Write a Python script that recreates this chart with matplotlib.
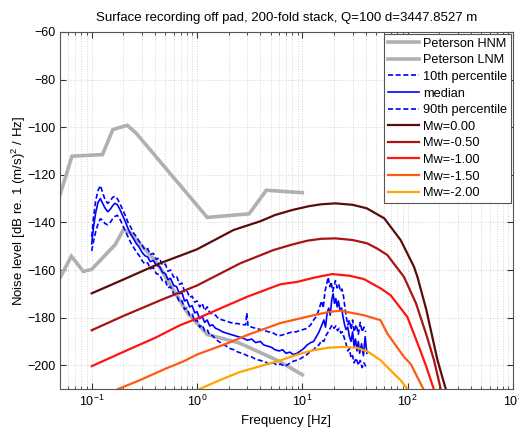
import matplotlib
matplotlib.use("Agg")
import matplotlib.pyplot as plt
import numpy as np

plt.rcParams['font.family'] = ['Liberation Sans', 'DejaVu Sans']
plt.rcParams['mathtext.fontset'] = 'custom'
plt.rcParams['mathtext.rm'] = 'Liberation Sans'
plt.rcParams['mathtext.it'] = 'Liberation Sans:italic'

# Peterson high / low noise models (velocity PSD, dB)
hnm_f = [0.05, 0.0649, 0.1266, 0.1587, 0.2174, 0.263, 1.25, 3.125, 4.545, 10.0]
hnm_db = [-128.5, -112.2, -111.5, -101.0, -99.2, -102.4, -137.9, -136.4, -126.5, -127.5]

lnm_f = [0.05, 0.0641, 0.0833, 0.1, 0.1667, 0.2, 0.2326, 0.4167, 0.806, 1.25, 2.5, 5.88, 10.0]
lnm_db = [-163.3, -154.2, -160.6, -159.7, -149.4, -143.1, -144.4, -157.0, -177.8, -187.1, -190.6, -198.1, -204.0]

# Recorded noise percentiles
med_f = [0.100, 0.104, 0.109, 0.115, 0.121, 0.127, 0.134, 0.142, 0.150, 0.158, 0.166, 0.175,
         0.185, 0.196, 0.208, 0.221, 0.235, 0.250, 0.266, 0.283, 0.300, 0.320, 0.340, 0.360,
         0.385, 0.410, 0.440, 0.470, 0.500, 0.530, 0.560, 0.600, 0.640, 0.680, 0.720, 0.760,
         0.800, 0.850, 0.900, 0.950, 1.00, 1.06, 1.12, 1.18, 1.25, 1.32, 1.40, 1.50, 1.60,
         1.75, 1.90, 2.06, 2.25, 2.45, 2.70, 3.0, 3.3, 3.6, 4.0, 4.3, 4.7, 5.1, 5.5, 6.0, 6.5,
         7.0, 7.6, 8.2, 8.9, 9.6, 10.3, 11.1, 12.0, 12.8, 13.6, 14.4, 15.2, 16.0, 16.6, 17.2,
         17.8, 18.4, 19.0, 19.6, 20.2, 20.8, 21.4, 22.0, 22.8, 23.6, 24.4, 25.2, 26.0, 27.0,
         28.0, 29.0, 30.0, 31.0, 32.0, 33.0, 34.0, 35.0, 36.5, 38.0, 39.5, 41.0]
med_db = [-149.0, -142.0, -136.0, -131.5, -130.0, -132.0, -134.0, -135.5, -134.5, -133.0, -132.0, -132.5,
          -134.5, -137.0, -139.5, -142.5, -145.0, -147.0, -149.0, -150.5, -152.5, -154.0, -154.5, -156.5,
          -156.0, -158.0, -158.5, -161.0, -161.5, -164.0, -163.5, -166.5, -167.0, -170.0, -169.5, -173.0,
          -172.5, -175.5, -175.0, -178.0, -177.5, -180.5, -179.5, -182.0, -181.0, -183.5, -183.0, -184.5, -185.0,
          -186.0, -186.5, -187.0, -187.5, -188.0, -188.5, -189.5, -189.0, -190.5, -190.0, -191.5, -192.0, -192.5, -193.5, -194.0, -193.5,
          -195.0, -194.5, -195.5, -195.0, -194.0, -193.0, -191.5, -190.5, -190.0, -188.0, -186.0, -183.5, -181.0, -184.0, -178.0,
          -176.0, -179.0, -172.5, -170.0, -174.0, -172.0, -175.5, -173.0, -177.0, -176.0, -180.0, -183.0, -185.0, -184.0,
          -188.0, -190.0, -186.0, -192.0, -189.0, -194.0, -190.0, -195.0, -191.0, -196.0, -188.0, -195.0]

p90_f = [0.100, 0.104, 0.109, 0.115, 0.121, 0.127, 0.134, 0.142, 0.150, 0.158, 0.166, 0.175,
         0.185, 0.196, 0.208, 0.221, 0.235, 0.250, 0.266, 0.283, 0.300, 0.320, 0.340, 0.360,
         0.385, 0.410, 0.440, 0.470, 0.500, 0.530, 0.560, 0.600, 0.640, 0.680, 0.720, 0.760,
         0.800, 0.850, 0.900, 0.950, 1.00, 1.06, 1.12, 1.18, 1.25, 1.32, 1.40, 1.50, 1.60,
         1.75, 1.90, 2.06, 2.25, 2.45, 2.70, 2.90, 2.97, 3.05, 3.3, 3.6, 4.0, 4.4, 4.8, 5.3, 5.8,
         6.2, 6.8, 7.4, 8.0, 8.7, 9.4, 10.2, 11.1, 12.0, 12.8, 13.6, 14.4, 15.2, 15.8, 16.4,
         17.0, 17.6, 18.2, 18.8, 19.4, 20.0, 20.6, 21.4, 22.2, 23.0, 23.8, 24.6, 25.4, 26.2,
         27.0, 28.0, 29.0, 30.0, 31.0, 32.5, 34.0, 35.5, 37.0, 38.5, 40.0]
p90_db = [-146.0, -138.0, -131.0, -126.5, -124.5, -127.5, -130.5, -132.0, -131.0, -129.5, -129.0, -130.0,
          -132.0, -134.5, -137.0, -140.0, -142.0, -144.5, -146.0, -148.0, -149.5, -151.5, -151.0, -153.5,
          -153.0, -155.5, -155.0, -158.0, -157.5, -160.5, -160.0, -163.0, -162.5, -166.0, -165.5, -169.0,
          -168.5, -171.5, -171.0, -173.5, -173.0, -175.5, -174.0, -177.0, -175.5, -178.0, -178.5, -179.0, -180.5,
          -181.0, -181.5, -182.0, -182.5, -182.5, -183.0, -183.0, -178.0, -183.5, -184.0, -184.5, -185.0, -185.5, -186.0, -186.5, -187.5,
          -187.5, -187.0, -186.5, -186.0, -186.0, -185.5, -185.0, -184.5, -183.0, -181.0, -179.5, -176.5, -173.0, -176.0, -169.0,
          -166.0, -163.0, -167.0, -165.0, -169.0, -167.0, -164.5, -167.5, -166.0, -169.0, -168.0, -171.0, -176.0, -180.0,
          -183.0, -181.0, -185.0, -181.0, -186.0, -183.0, -187.0, -182.0, -186.0, -184.0, -186.0]

p10_f = [0.100, 0.104, 0.109, 0.115, 0.121, 0.127, 0.134, 0.142, 0.150, 0.158, 0.166, 0.175,
         0.185, 0.196, 0.208, 0.221, 0.235, 0.250, 0.266, 0.283, 0.300, 0.320, 0.340, 0.360,
         0.385, 0.410, 0.440, 0.470, 0.500, 0.530, 0.560, 0.600, 0.640, 0.680, 0.720, 0.760,
         0.800, 0.850, 0.900, 0.950, 1.00, 1.06, 1.12, 1.18, 1.25, 1.32, 1.40, 1.50, 1.60,
         1.75, 1.90, 2.06, 2.25, 2.45, 2.70, 3.0, 3.3, 3.6, 4.0, 4.4, 4.8, 5.3, 5.8, 6.2, 6.8,
         7.4, 8.0, 8.7, 9.4, 10.2, 11.1, 12.0, 12.8, 13.6, 14.4, 15.2, 16.0, 16.8, 17.6, 18.4,
         19.2, 20.0, 20.8, 21.6, 22.4, 23.2, 24.0, 25.0, 26.0, 27.0, 28.0, 29.0, 30.0, 31.0,
         32.5, 34.0, 35.5, 37.0, 38.5, 40.0]
p10_db = [-152.0, -148.0, -144.0, -140.5, -138.5, -139.0, -140.5, -141.0, -140.0, -138.5, -137.5, -137.0,
          -138.5, -141.0, -143.5, -146.0, -148.5, -150.5, -152.5, -154.0, -156.0, -157.5, -157.0, -159.5,
          -159.0, -161.5, -162.0, -164.5, -164.5, -167.5, -167.0, -170.0, -170.5, -173.5, -173.0, -176.5,
          -176.0, -179.0, -178.5, -181.5, -181.0, -184.0, -183.0, -185.5, -185.0, -187.5, -187.5, -189.0, -190.0,
          -191.0, -192.0, -193.0, -193.5, -194.5, -195.0, -196.0, -196.5, -197.5, -198.0, -198.5, -199.5, -199.0, -200.0, -199.5, -200.5,
          -199.5, -198.5, -198.0, -197.5, -196.5, -195.5, -194.0, -193.5, -192.0, -191.5, -189.5, -190.0, -187.5, -186.0, -184.5,
          -183.0, -184.5, -183.5, -185.5, -184.5, -186.5, -186.0, -188.5, -191.0, -194.0, -193.0, -197.0, -196.0, -199.0,
          -197.0, -200.0, -198.0, -201.0, -199.0, -200.5]

# Modelled event spectra for several magnitudes
mw_labels = ['Mw=0.00', 'Mw=-0.50', 'Mw=-1.00', 'Mw=-1.50', 'Mw=-2.00']
mw_colors = ['#5a0c0c', '#a81414', '#ff1414', '#ff5a14', '#ffa500']

mw0_f = [0.1, 0.2, 0.444, 1.0, 2.22, 4.0, 5.5, 8.0, 11.5, 15.0, 20.6, 30.0, 41.0, 60.0, 86.0, 115.0, 124.0, 150.0, 192.0, 230.0, 260.0]
mw0_db = [-169.8, -164.0, -157.2, -151.3, -143.2, -139.5, -136.9, -134.8, -133.2, -132.4, -132.0, -132.6, -134.1, -138.3, -147.5, -158.7, -163.0, -176.5, -197.9, -210.0, -220.0]

mw1_f = [0.1, 0.2, 0.444, 1.0, 2.57, 5.33, 8.0, 11.1, 15.0, 20.6, 30.0, 41.3, 51.4, 64.1, 92.3, 120.0, 150.0, 178.0, 206.0, 240.0]
mw1_db = [-185.3, -179.3, -172.8, -166.5, -157.2, -151.6, -149.3, -147.7, -146.9, -146.7, -147.4, -148.8, -151.0, -153.7, -162.9, -174.0, -187.0, -197.9, -210.0, -222.0]

mw2_f = [0.1, 0.2, 0.4, 0.689, 1.0, 2.97, 6.17, 8.9, 13.0, 19.2, 28.0, 38.4, 55.3, 68.9, 99.3, 128.0, 150.0, 180.0, 210.0]
mw2_db = [-200.4, -194.4, -188.5, -183.2, -180.4, -171.3, -166.0, -165.0, -163.2, -161.7, -162.4, -163.8, -167.7, -170.6, -179.7, -192.3, -200.5, -211.0, -222.0]

mw3_f = [0.15, 0.178, 0.286, 0.5, 0.75, 1.0, 1.92, 2.97, 6.17, 12.8, 18.0, 23.0, 38.4, 55.3, 64.1, 92.3, 107.0, 141.0, 170.0]
mw3_db = [-212.0, -210.0, -206.3, -201.5, -198.3, -195.5, -190.9, -187.4, -182.3, -179.0, -177.6, -177.1, -179.0, -181.1, -186.7, -196.5, -199.5, -210.0, -220.0]

mw4_f = [0.9, 1.07, 1.6, 2.5, 4.28, 6.17, 9.0, 12.8, 18.0, 24.7, 33.0, 42.0, 55.3, 70.0, 85.8, 99.3, 120.0]
mw4_db = [-211.5, -209.9, -206.5, -203.0, -200.0, -198.0, -195.5, -193.7, -192.6, -192.3, -192.7, -194.3, -197.9, -202.5, -206.3, -210.0, -217.0]

mw_f = [mw0_f, mw1_f, mw2_f, mw3_f, mw4_f]
mw_db = [mw0_db, mw1_db, mw2_db, mw3_db, mw4_db]

fig = plt.figure(figsize=(5.19, 4.30), dpi=100)
ax = fig.add_axes([0.1156, 0.0953, 0.8728, 0.8303])

ax.semilogx(hnm_f, hnm_db, color='#b0b0b0', lw=2.6, label='Peterson HNM', solid_joinstyle='miter')
ax.semilogx(lnm_f, lnm_db, color='#b0b0b0', lw=2.6, label='Peterson LNM', solid_joinstyle='miter')
ax.semilogx(p10_f, p10_db, color='#0000ff', lw=1.2, ls=(0, (3.0, 1.6)), label='10th percentile')
ax.semilogx(med_f, med_db, color='#0000ff', lw=1.2, label='median')
ax.semilogx(p90_f, p90_db, color='#0000ff', lw=1.2, ls=(0, (3.0, 1.6)), label='90th percentile')
for fv, dv, c, lab in zip(mw_f, mw_db, mw_colors, mw_labels):
    ax.semilogx(fv, dv, color=c, lw=1.6, label=lab)

ax.set_xlim(0.05, 1000)
ax.set_ylim(-210, -60)
ax.set_yticks(np.arange(-200, -59, 20))
ax.grid(True, which='both', axis='x', linestyle=(0, (1, 2)), color='#c8c8c8', linewidth=0.6)
ax.grid(True, which='major', axis='y', linestyle=(0, (1, 2)), color='#c8c8c8', linewidth=0.6)
ax.tick_params(which='both', direction='in', top=True, right=True, labelsize=9, colors='#333333',
               labelcolor='black')
ax.tick_params(which='major', length=4)
ax.tick_params(which='minor', length=2)
for sp in ax.spines.values():
    sp.set_color('#555555')
    sp.set_linewidth(0.8)

ax.set_title('Surface recording off pad, 200-fold stack, Q=100 d=3447.8527 m', fontsize=9.5, pad=8)
ax.set_xlabel('Frequency [Hz]', fontsize=9.5)
ax.set_ylabel('Noise level [dB re. 1 (m/s)$^2$ / Hz]', fontsize=9.5)
ax.yaxis.set_label_coords(-0.071, 0.5)

leg = ax.legend(loc='upper right', fontsize=9.2, frameon=True, fancybox=False, framealpha=1,
                edgecolor='#555555', handlelength=2.4, handletextpad=0.35, labelspacing=0.36,
                borderpad=0.3, borderaxespad=0.15)
leg.get_frame().set_linewidth(0.8)

fig.savefig('out.png', dpi=100)
